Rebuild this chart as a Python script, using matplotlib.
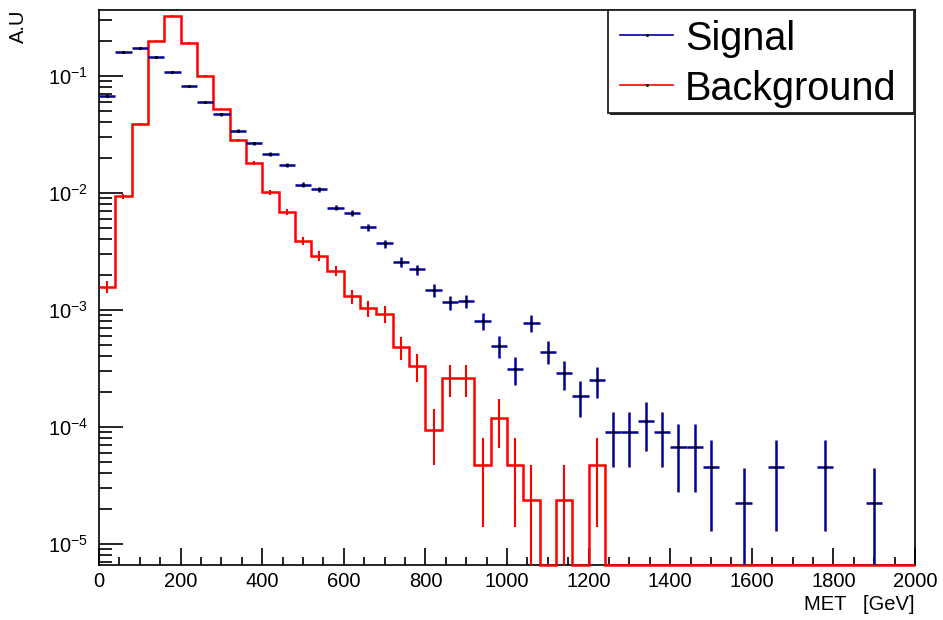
import numpy as np
import matplotlib
matplotlib.use("Agg")
import matplotlib.pyplot as plt
from matplotlib.patches import Rectangle
from matplotlib.lines import Line2D
from matplotlib.ticker import LogLocator, MultipleLocator, FuncFormatter, NullFormatter

plt.rcParams["font.family"] = ["Liberation Sans", "DejaVu Sans"]
plt.rcParams["mathtext.fontset"] = "custom"
plt.rcParams["mathtext.rm"] = "Liberation Sans"
plt.rcParams["mathtext.it"] = "Liberation Sans:italic"
plt.rcParams["mathtext.bf"] = "Liberation Sans:bold"

# ---- histogram data (normalised to unit area, 40 GeV bins, 0-2000 GeV) ----
met_edges = np.arange(0, 2001, 40)

signal = [0.067, 0.16, 0.172, 0.144, 0.109, 0.082, 0.0597, 0.0469, 0.034, 0.0267,
          0.0215, 0.0173, 0.0118, 0.0107, 0.0075, 0.00672, 0.00507, 0.0037, 0.00258, 0.00222,
          0.00148, 0.00116, 0.00119, 8.1e-4, 4.93e-4, 3.1e-4, 7.8e-4, 4.41e-4, 2.88e-4, 1.85e-4,
          2.52e-4, 9.0e-5, 9.0e-5, 1.12e-4, 9.0e-5, 6.7e-5, 6.7e-5, 4.5e-5, 0.0, 2.24e-5,
          0.0, 4.5e-5, 0.0, 0.0, 4.5e-5, 0.0, 0.0, 2.24e-5, 0.0, 0.0]
signal_err = [1.22e-3, 1.89e-3, 1.96e-3, 1.80e-3, 1.56e-3, 1.36e-3, 1.16e-3, 1.02e-3, 8.7e-4, 7.7e-4,
              6.9e-4, 6.2e-4, 5.1e-4, 4.9e-4, 4.1e-4, 3.9e-4, 3.4e-4, 2.9e-4, 2.4e-4, 2.2e-4,
              1.8e-4, 1.6e-4, 1.6e-4, 1.35e-4, 1.05e-4, 8.3e-5, 1.32e-4, 9.9e-5, 8.0e-5, 6.4e-5,
              7.5e-5, 4.5e-5, 4.5e-5, 5.0e-5, 4.5e-5, 3.9e-5, 3.9e-5, 3.2e-5, 0.0, 2.24e-5,
              0.0, 3.2e-5, 0.0, 0.0, 3.2e-5, 0.0, 0.0, 2.24e-5, 0.0, 0.0]

background = [1.58e-3, 9.4e-3, 0.039, 0.20, 0.327, 0.191, 0.100, 0.0518, 0.0281, 0.018,
              0.0101, 0.0069, 0.0039, 0.0029, 0.00216, 0.00131, 0.00103, 9.25e-4, 4.78e-4, 3.33e-4,
              9.5e-5, 2.6e-4, 2.6e-4, 4.75e-5, 1.19e-4, 4.75e-5, 2.37e-5, 0.0, 2.37e-5, 0.0,
              4.75e-5, 0.0, 0.0, 0.0, 0.0, 0.0, 0.0, 0.0, 0.0, 0.0,
              0.0, 0.0, 0.0, 0.0, 0.0, 0.0, 0.0, 0.0, 0.0, 0.0]
background_err = [1.94e-4, 4.72e-4, 9.6e-4, 2.18e-3, 2.78e-3, 2.13e-3, 1.54e-3, 1.11e-3, 8.2e-4, 6.5e-4,
                  4.9e-4, 4.0e-4, 3.04e-4, 2.62e-4, 2.26e-4, 1.76e-4, 1.56e-4, 1.48e-4, 1.06e-4, 8.9e-5,
                  4.74e-5, 7.85e-5, 7.85e-5, 3.36e-5, 5.3e-5, 3.36e-5, 2.37e-5, 0.0, 2.37e-5, 0.0,
                  3.36e-5, 0.0, 0.0, 0.0, 0.0, 0.0, 0.0, 0.0, 0.0, 0.0,
                  0.0, 0.0, 0.0, 0.0, 0.0, 0.0, 0.0, 0.0, 0.0, 0.0]

series_names = ["Signal", "Background"]
x_title = "MET   [GeV]"
y_title = "A.U"

SIG_COLOR = "#000099"
BKG_COLOR = "#ff0000"
Y_MIN, Y_MAX = 6.6e-6, 0.366

W, H = 943, 620
fig = plt.figure(figsize=(W / 100, H / 100), dpi=100)
ax = fig.add_axes([99 / W, 55 / H, 816 / W, 555 / H])

edges = np.asarray(met_edges, dtype=float)
centers = 0.5 * (edges[:-1] + edges[1:])
half_w = 0.5 * (edges[1] - edges[0])

sig = np.asarray(signal)
sig_e = np.asarray(signal_err)
bkg = np.asarray(background)
bkg_e = np.asarray(background_err)

# background: step histogram, empty bins drawn along the lower frame edge
ax.stairs(np.maximum(bkg, Y_MIN), edges, baseline=None, color=BKG_COLOR,
          linewidth=1.8, zorder=3, clip_on=False)
mb = bkg > 0
ax.errorbar(centers[mb], bkg[mb], yerr=bkg_e[mb], fmt="none", ecolor=BKG_COLOR,
            elinewidth=1.5, capsize=0, zorder=3)

# signal: points with bin-width horizontal bars and statistical errors
ms = sig > 0
ax.errorbar(centers[ms], sig[ms], xerr=half_w, yerr=sig_e[ms], fmt="none",
            ecolor=SIG_COLOR, elinewidth=1.8, capsize=0, zorder=4)
ax.plot(centers[ms], sig[ms], ls="none", marker="s", ms=1.2, color="black", zorder=5)

ax.set_yscale("log")
ax.set_xlim(edges[0], edges[-1])
ax.set_ylim(Y_MIN, Y_MAX)

ax.xaxis.set_major_locator(MultipleLocator(200))
ax.xaxis.set_minor_locator(MultipleLocator(50))
ax.yaxis.set_major_locator(LogLocator(base=10, numticks=12))
ax.yaxis.set_minor_locator(LogLocator(base=10, subs=np.arange(2, 10), numticks=12))
ax.yaxis.set_major_formatter(FuncFormatter(lambda v, p: r"$10^{%d}$" % int(round(np.log10(v)))))
ax.yaxis.set_minor_formatter(NullFormatter())

ax.tick_params(which="both", direction="in", top=False, right=False, width=1.2, colors="black")
ax.tick_params(axis="x", which="major", length=12, pad=5, labelsize=14.5)
ax.tick_params(axis="x", which="minor", length=6)
ax.tick_params(axis="y", which="major", length=17, pad=8, labelsize=14.5)
ax.tick_params(axis="y", which="minor", length=9.5)
for s in ax.spines.values():
    s.set_linewidth(1.2)

fig.text(915 / W, 1 - 604 / H, x_title, ha="right", va="center", fontsize=14.5)
fig.text(18 / W, 1 - 10 / H, y_title, ha="center", va="top", rotation=90, fontsize=14.5)

# legend box with drop shadow
def px(x, y):
    return x / W, 1 - y / H

lx0, ly0, lx1, ly1 = 608, 10, 914, 113
shadow = Rectangle(px(lx0 + 2, ly1 + 2), (lx1 - lx0) / W, (ly1 - ly0) / H,
                   transform=fig.transFigure, facecolor="#222222", edgecolor="none", zorder=9)
box = Rectangle(px(lx0, ly1), (lx1 - lx0) / W, (ly1 - ly0) / H,
                transform=fig.transFigure, facecolor="white", edgecolor="#222222",
                linewidth=1.3, zorder=10)
fig.patches.extend([shadow, box])

for name, color, yc in zip(series_names, [SIG_COLOR, BKG_COLOR], [35, 85]):
    x0, y0 = px(620, yc)
    x1, _ = px(673, yc)
    fig.lines.append(Line2D([x0, x1], [y0, y0], transform=fig.transFigure,
                            color=color, linewidth=1.2, zorder=11))
    fig.lines.append(Line2D([(x0 + x1) / 2], [y0], transform=fig.transFigure,
                            marker="s", ms=1.0, color="black", ls="none", zorder=12))
    fig.text(685 / W, y0, name, ha="left", va="center_baseline", fontsize=28.5, zorder=12)

fig.savefig("out.png", dpi=100)
